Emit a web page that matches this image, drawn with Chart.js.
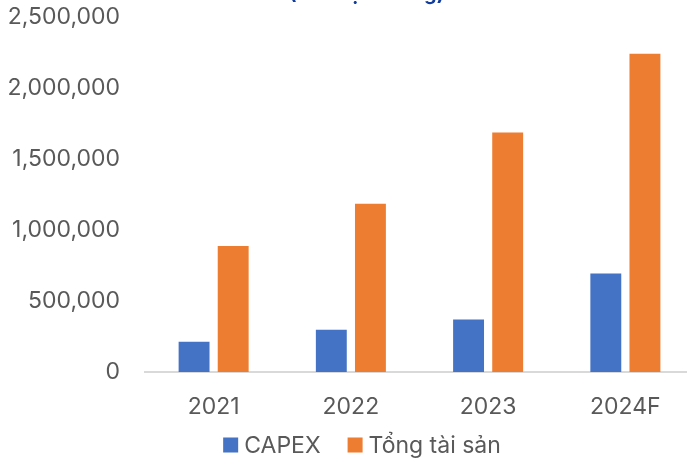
<!DOCTYPE html>
<html>
<head>
<meta charset="utf-8">
<script src="https://cdn.jsdelivr.net/npm/chart.js@4.4.1/dist/chart.umd.min.js"></script>
<style>
  html, body { margin: 0; padding: 0; overflow: hidden; background: #ffffff; }
  #wrap { width: 694px; height: 462px; }
</style>
</head>
<body>
<div id="wrap"><canvas id="c" width="694" height="462"></canvas></div>
<script>
// Categories and series values
const years = ['2021', '2022', '2023', '2024F'];
const capex = [213000, 297000, 370000, 694000];
const totalAssets = [888000, 1184000, 1686000, 2241000];

// Value axis
const yMin = 0;
const yMax = 2500000;
const yStep = 500000;

const seriesNames = ['CAPEX', 'Tổng tài sản'];
const titleText = '(Đơn vị: tỉ đồng)';

const FONT = 'Inter, "Noto Sans", sans-serif';
const TEXT_GREY = '#595959';

// Heading sits above the canvas edge, only its lowest strokes show
const headingPlugin = {
  id: 'heading',
  afterDraw(chart) {
    const ctx = chart.ctx;
    ctx.save();
    ctx.font = 'bold 20px ' + FONT;
    ctx.fillStyle = '#123c9c';
    ctx.textAlign = 'left';
    ctx.textBaseline = 'alphabetic';
    ctx.fillText(titleText, 289, 0);
    ctx.restore();
  }
};

// Legend row under the axis: square swatch, label, wide gap between entries
const legendRowPlugin = {
  id: 'legendRow',
  afterDraw(chart) {
    const ctx = chart.ctx;
    const box = 15, gap = 6, itemGap = 27;
    const centerX = 362, centerY = 445;
    ctx.save();
    ctx.font = '23px ' + FONT;
    const items = chart.data.datasets.map(ds => ({
      text: ds.label,
      color: ds.backgroundColor,
      w: ctx.measureText(ds.label).width
    }));
    const total = items.reduce((s, it) => s + box + gap + it.w, 0) + itemGap * (items.length - 1);
    let x = centerX - total / 2;
    ctx.textAlign = 'left';
    ctx.textBaseline = 'middle';
    items.forEach(it => {
      ctx.fillStyle = it.color;
      ctx.fillRect(x, centerY - box / 2, box, box);
      ctx.fillStyle = TEXT_GREY;
      ctx.fillText(it.text, x + box + gap, centerY + 1);
      x += box + gap + it.w + itemGap;
    });
    ctx.restore();
  }
};

new Chart(document.getElementById('c'), {
  type: 'bar',
  data: {
    labels: years,
    datasets: [
      { label: seriesNames[0], data: capex, backgroundColor: '#4472c4' },
      { label: seriesNames[1], data: totalAssets, backgroundColor: '#ed7d31' }
    ]
  },
  options: {
    responsive: false,
    animation: false,
    devicePixelRatio: 1,
    categoryPercentage: 0.57,
    barPercentage: 0.79,
    layout: { padding: { top: 17, right: 0, left: 0, bottom: 40 } },
    plugins: {
      legend: { display: false },
      tooltip: { enabled: false }
    },
    scales: {
      x: {
        grid: { display: false, drawTicks: false },
        border: { display: true, color: '#d9d9d9', width: 2 },
        afterFit(scale) { scale.height = 50; },
        ticks: {
          color: TEXT_GREY,
          font: { family: FONT, size: 23 },
          padding: 21,
          maxRotation: 0
        }
      },
      y: {
        min: yMin,
        max: yMax,
        grid: { display: false, drawTicks: false },
        border: { display: false },
        afterFit(scale) {
          scale.width = 145;
          scale.paddingTop = 0;
          scale.paddingBottom = 0;
        },
        ticks: {
          stepSize: yStep,
          color: TEXT_GREY,
          font: { family: FONT, size: 23 },
          padding: 25,
          callback: v => v.toLocaleString('en-US')
        }
      }
    }
  },
  plugins: [headingPlugin, legendRowPlugin]
});
</script>
</body>
</html>
